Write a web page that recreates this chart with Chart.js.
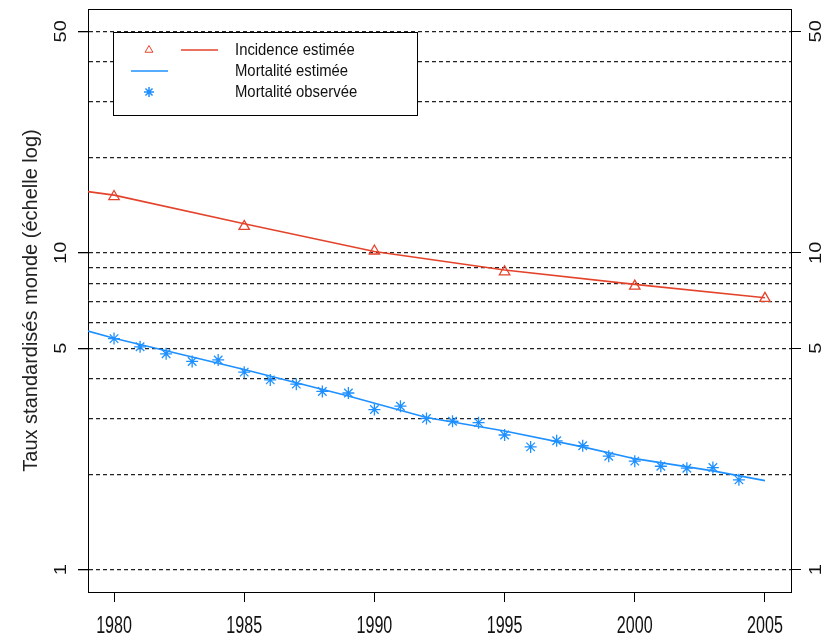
<!DOCTYPE html>
<html>
<head>
<meta charset="utf-8">
<script src="https://cdn.jsdelivr.net/npm/chart.js@4"></script>
<style>
  html, body { margin: 0; padding: 0; background: #fff; }
  #wrap { width: 827px; height: 638px; }
</style>
</head>
<body>
<div id="wrap"><canvas id="chart"></canvas></div>
<script>
// incidence (triangles) and fitted incidence line
const incYears = [1980, 1985, 1990, 1995, 2000, 2005];
const incObserved = [15.05, 12.11, 10.13, 8.71, 7.85, 7.18];
const incLineYears = [1979, 1980, 1985, 1990, 1995, 2000, 2005];
const incLine = [15.6, 15.2, 12.35, 10.09, 8.82, 7.95, 7.21];

// observed mortality (asterisks) and fitted mortality line
const mortYears = [1980, 1981, 1982, 1983, 1984, 1985, 1986, 1987, 1988, 1989, 1990, 1991,
    1992, 1993, 1994, 1995, 1996, 1997, 1998, 1999, 2000, 2001, 2002, 2003, 2004];
const mortObserved = [5.36, 5.05, 4.80, 4.54, 4.59, 4.20, 3.97, 3.85, 3.65, 3.61, 3.20, 3.28,
    3.00, 2.94, 2.91, 2.66, 2.44, 2.55, 2.46, 2.28, 2.20, 2.12, 2.09, 2.10, 1.92];
const mortLineYears = [1979, 1980, 1985, 1989, 1992, 1995, 1998, 2000, 2003, 2005];
const mortLine = [5.66, 5.37, 4.28, 3.53, 3.02, 2.74, 2.44, 2.24, 2.05, 1.91];

const xTicks = [1980, 1985, 1990, 1995, 2000, 2005];
const yGrid = [1, 2, 3, 4, 5, 6, 7, 8, 9, 10, 20, 30, 40, 50];
const yLabels = [1, 5, 10, 50];

const legendLabels = ['Incidence estimée', 'Mortalité estimée', 'Mortalité observée'];

const RED = '#e4432b';
const BLUE = '#1e90ff';
const FONT = "'Liberation Sans', Arial, sans-serif";

const toXY = (xs, ys) => xs.map((x, i) => ({ x: x, y: ys[i] }));

// text squeezed horizontally on screen, like the stretched R output
function squeezed(ctx, text, x, y, size, sx, rotated) {
    ctx.save();
    ctx.translate(x, y);
    ctx.scale(sx, 1);
    if (rotated) ctx.rotate(-Math.PI / 2);
    ctx.font = size + 'px ' + FONT;
    ctx.fillText(text, 0, 0);
    ctx.restore();
}

const rLook = {
    id: 'rLook',
    afterDraw(chart) {
        const ctx = chart.ctx;
        const x = chart.scales.x;
        const y = chart.scales.y;
        ctx.save();
        ctx.fillStyle = '#111';
        ctx.textBaseline = 'middle';
        ctx.textAlign = 'center';

        // rotated y tick labels, both sides
        yLabels.forEach(v => {
            const py = y.getPixelForValue(v);
            squeezed(ctx, String(v), 62, py, 20, 0.8, true);
            squeezed(ctx, String(v), 817, py, 20, 0.8, true);
        });

        // x tick labels
        xTicks.forEach(v => {
            squeezed(ctx, String(v), x.getPixelForValue(v), 627, 23, 0.7, false);
        });

        // legend box
        const bx = 113, by = 32, bw = 304, bh = 83;
        ctx.fillStyle = '#fff';
        ctx.fillRect(bx, by, bw, bh);
        ctx.strokeStyle = '#000';
        ctx.lineWidth = 1;
        ctx.strokeRect(bx + 0.5, by + 0.5, bw, bh);

        const rows = [50, 71, 92];
        ctx.strokeStyle = RED;
        Chart.helpers.drawPoint(ctx, { pointStyle: 'triangle', radius: 4.5, borderWidth: 1.2 }, 149, rows[0]);
        ctx.lineWidth = 1.5;
        ctx.beginPath();
        ctx.moveTo(181, rows[0]); ctx.lineTo(218, rows[0]);
        ctx.stroke();
        ctx.strokeStyle = BLUE;
        ctx.beginPath();
        ctx.moveTo(131, rows[1]); ctx.lineTo(168, rows[1]);
        ctx.stroke();
        Chart.helpers.drawPoint(ctx, { pointStyle: 'star', radius: 5, borderWidth: 1.2 }, 149, rows[2]);

        ctx.fillStyle = '#111';
        ctx.textAlign = 'left';
        legendLabels.forEach((t, i) => squeezed(ctx, t, 235, rows[i], 16.5, 0.9, false));
        ctx.restore();
    }
};

const ctx = document.getElementById('chart').getContext('2d');
new Chart(ctx, {
    type: 'line',
    data: {
        datasets: [
            {
                label: 'Incidence estimée (courbe)',
                data: toXY(incLineYears, incLine),
                borderColor: RED,
                borderWidth: 1.6,
                pointRadius: 0,
                tension: 0,
                fill: false
            },
            {
                label: 'Incidence estimée',
                data: toXY(incYears, incObserved),
                showLine: false,
                pointStyle: 'triangle',
                pointRadius: 6,
                pointBorderWidth: 1.3,
                pointBorderColor: RED,
                pointBackgroundColor: 'rgba(0,0,0,0)'
            },
            {
                label: 'Mortalité estimée',
                data: toXY(mortLineYears, mortLine),
                borderColor: BLUE,
                borderWidth: 1.6,
                pointRadius: 0,
                tension: 0,
                fill: false
            },
            {
                label: 'Mortalité observée',
                data: toXY(mortYears, mortObserved),
                showLine: false,
                pointStyle: 'star',
                pointRadius: 6,
                pointBorderWidth: 1.3,
                pointBorderColor: BLUE,
                pointBackgroundColor: BLUE
            }
        ]
    },
    options: {
        responsive: true,
        maintainAspectRatio: false,
        animation: false,
        layout: { padding: 0 },
        plugins: {
            legend: { display: false },
            tooltip: { enabled: false }
        },
        scales: {
            x: {
                type: 'linear',
                position: 'bottom',
                min: 1979,
                max: 2006,
                afterBuildTicks: s => { s.ticks = xTicks.map(v => ({ value: v })); },
                afterFit: s => { s.height = 46; },
                grid: { drawOnChartArea: false, tickLength: 10, tickColor: '#000' },
                border: { color: '#000', width: 1 },
                ticks: { display: false }
            },
            xTop: {
                type: 'linear',
                position: 'top',
                min: 1979,
                max: 2006,
                afterFit: s => { s.height = 9; },
                grid: { display: false, drawTicks: false },
                border: { color: '#000', width: 1 },
                ticks: { display: false }
            },
            y: {
                type: 'logarithmic',
                position: 'left',
                min: 0.85,
                max: 58.8,
                afterBuildTicks: s => { s.ticks = yGrid.map(v => ({ value: v })); },
                afterFit: s => { s.width = 88; },
                grid: {
                    color: '#222',
                    lineWidth: 1.3,
                    tickLength: 10,
                    tickColor: c => yLabels.includes(c.tick && c.tick.value) ? '#000' : 'rgba(0,0,0,0)'
                },
                border: { color: '#000', width: 1, dash: [4, 3] },
                ticks: { display: false },
                title: {
                    display: true,
                    text: 'Taux standardisés monde (échelle log)',
                    color: '#222',
                    font: { family: FONT, size: 20 },
                    padding: { top: 19, bottom: 0 }
                }
            },
            y2: {
                type: 'logarithmic',
                position: 'right',
                min: 0.85,
                max: 58.8,
                afterBuildTicks: s => { s.ticks = yLabels.map(v => ({ value: v })); },
                afterFit: s => { s.width = 36; },
                grid: { drawOnChartArea: false, tickLength: 10, tickColor: '#000' },
                border: { color: '#000', width: 1 },
                ticks: { display: false }
            }
        }
    },
    plugins: [rLook]
});
</script>
</body>
</html>
